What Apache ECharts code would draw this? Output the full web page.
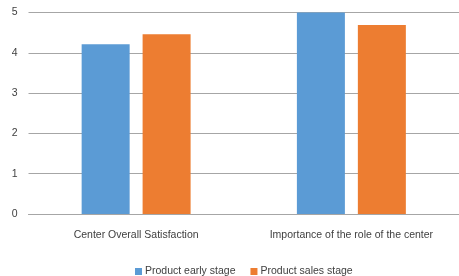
<!DOCTYPE html>
<html><head><meta charset="utf-8">
<script src="https://cdn.jsdelivr.net/npm/echarts@6/dist/echarts.min.js"></script>
<style>html,body{margin:0;padding:0;background:#fff}#c{width:459px;height:276px}</style>
</head><body><div id="c"></div>
<script>
const categories = ['Center Overall Satisfaction', 'Importance of the role of the center'];
const earlyStage = [4.21, 5.0];
const salesStage = [4.46, 4.69];
const yTicks = [0, 1, 2, 3, 4, 5];

const chart = echarts.init(document.getElementById('c'), null, {renderer: 'canvas'});
const font = 'Liberation Sans';
chart.setOption({
  animation: false,
  textStyle: {fontFamily: font},
  grid: {left: 28.5, right: -2.5, top: 12.5, bottom: 62, containLabel: false},
  legend: {
    top: 261, left: 130,
    itemWidth: 7, itemHeight: 7, itemGap: 15,
    icon: 'rect',
    textStyle: {fontSize: 10.5, color: '#404040', fontFamily: font, padding: [0, 0, 0, -2]},
    data: ['Product early stage', 'Product sales stage']
  },
  xAxis: {
    type: 'category', data: categories,
    axisLine: {show: true, lineStyle: {color: '#a6a6a6', width: 1}},
    axisTick: {show: false},
    axisLabel: {fontSize: 10.5, color: '#404040', margin: 16, fontFamily: font}
  },
  yAxis: {
    type: 'value', min: 0, max: 5, interval: 1,
    axisLine: {show: false}, axisTick: {show: false},
    axisLabel: {fontSize: 10.5, color: '#404040', margin: 11, fontFamily: font,
      formatter: v => yTicks.includes(v) ? String(v) : ''},
    splitLine: {lineStyle: {color: '#a6a6a6', width: 1}}
  },
  series: [
    {name: 'Product early stage', type: 'bar', data: earlyStage, barWidth: 48, barGap: '27%',
     itemStyle: {color: '#5B9BD5'}},
    {name: 'Product sales stage', type: 'bar', data: salesStage, barWidth: 48, barGap: '27%',
     itemStyle: {color: '#ED7D31'}}
  ]
});
</script></body></html>
